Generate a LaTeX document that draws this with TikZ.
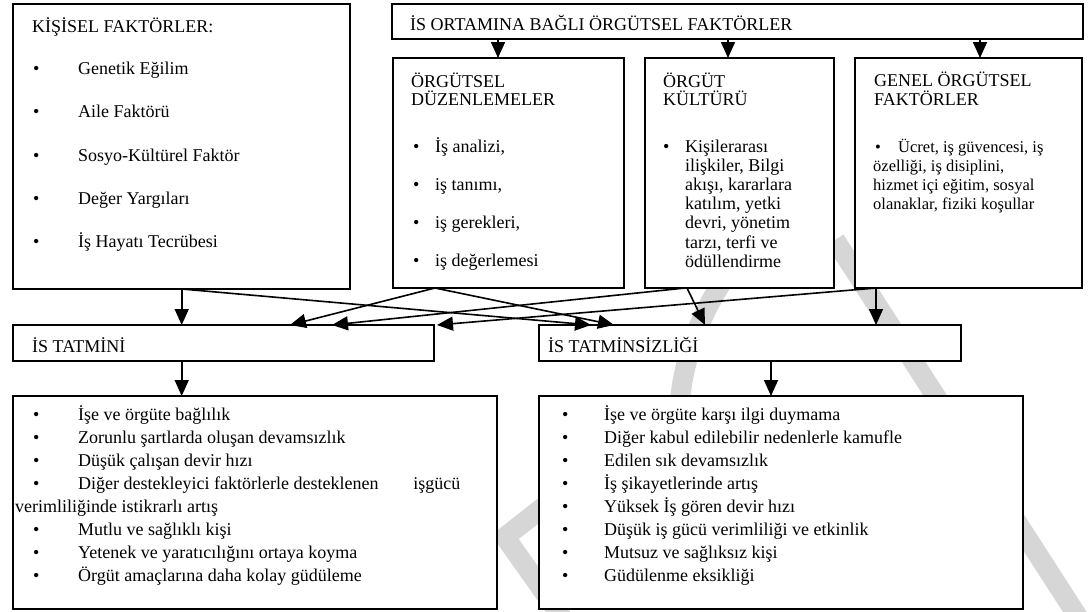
\documentclass[tikz,border=0pt]{standalone}
\usepackage{fontspec}
\setmainfont{Liberation Serif}
\usetikzlibrary{arrows.meta}
\begin{document}
\begin{tikzpicture}[x=1pt,y=-1pt,
  box/.style={draw,fill=white,line width=1.7pt,inner sep=0pt,outer sep=0pt,anchor=north west},
  conn/.style={line width=1.6pt,-{Triangle[length=16pt,width=14pt]}},
  txt/.style={anchor=base west,inner sep=0pt,font=\fontsize{18}{20}\selectfont},
  txtg/.style={txt,font=\fontsize{16.5}{19}\selectfont},
  bul/.style={txt},
  wmark/.style={draw=black!16,line width=20pt,line join=miter},
]
\useasboundingbox (0,0) rectangle (1090,611);
% faint watermark (mostly hidden behind the boxes)
\draw[wmark] (745,250) .. controls (705,300) and (685,350) .. (680,400) -- (505,537) -- (585,650);
\draw[wmark] (835,240) -- (1080,620);

% boxes
\node[box,minimum width=337pt,minimum height=285pt] (K) at (13,4) {};
\node[box,minimum width=691pt,minimum height=35pt] (H) at (392,4) {};
\node[box,minimum width=231pt,minimum height=230pt] (D) at (393,58) {};
\node[box,minimum width=189pt,minimum height=230pt] (C) at (645,58) {};
\node[box,minimum width=227pt,minimum height=230pt] (G) at (855,58) {};
\node[box,minimum width=421pt,minimum height=36pt] (T) at (13,325) {};
\node[box,minimum width=422pt,minimum height=36pt] (U) at (539,325) {};
\node[box,minimum width=484pt,minimum height=213pt] (BL) at (13,396) {};
\node[box,minimum width=484pt,minimum height=213pt] (BR) at (539,396) {};

% texts
\node[txt] (Kt) at (32,32) {KİŞİSEL FAKTÖRLER:};
\foreach \t/\y [count=\i] in {Genetik Eğilim/74, Aile Faktörü/117, Sosyo-Kültürel Faktör/161, Değer Yargıları/204, İş Hayatı Tecrübesi/247}{
  \node[bul] (Kb\i) at (33,\y) {\textbullet};
  \node[txt] (Ki\i) at (78,\y) {\t};
}
\node[txt] (Ht) at (410,30) {İS ORTAMINA BAĞLI ÖRGÜTSEL FAKTÖRLER};

\node[txt] (Dt1) at (411,87) {ÖRGÜTSEL};
\node[txt] (Dt2) at (411,105) {DÜZENLEMELER};
\foreach \t/\y [count=\i] in {{İş analizi,/152}, {iş tanımı,/190}, {iş gerekleri,/228}, {iş değerlemesi/266}}{
  \node[bul] (Db\i) at (413,\y) {\textbullet};
  \node[txt] (Di\i) at (435,\y) {\t};
}

\node[txt] (Ct1) at (663,87) {ÖRGÜT};
\node[txt] (Ct2) at (663,105) {KÜLTÜRÜ};
\node[bul] (Cb) at (663,152) {\textbullet};
\foreach \t/\y [count=\i] in {Kişilerarası/152, {ilişkiler, Bilgi/171.2}, {akışı, kararlara/190.4}, {katılım, yetki/209.6}, {devri, yönetim/228.8}, {tarzı, terfi ve/248}, ödüllendirme/267.2}{
  \node[txt] (Ci\i) at (685,\y) {\t};
}

\node[txt] (Gt1) at (874,86) {GENEL ÖRGÜTSEL};
\node[txt] (Gt2) at (874,105) {FAKTÖRLER};
\node[txtg] (Gb) at (875,152) {\textbullet};
\node[txtg] (Gi1) at (898,152) {Ücret, iş güvencesi, iş};
\foreach \t/\y [count=\i from 2] in {{özelliği, iş disiplini,/171.2}, {hizmet içi eğitim, sosyal/190.4}, {olanaklar, fiziki koşullar/209.6}}{
  \node[txtg] (Gi\i) at (873,\y) {\t};
}

\node[txt] (Tt) at (32,352) {İS TATMİNİ};
\node[txt] (Ut) at (548,352) {İS TATMİNSİZLİĞİ};

% bottom left list
\foreach \y [count=\i] in {420,443,466,489,535,558,581}{
  \node[bul] (Lb\i) at (33,\y) {\textbullet};
}
\foreach \t/\y [count=\i] in {İşe ve örgüte bağlılık/420, Zorunlu şartlarda oluşan devamsızlık/443, Düşük çalışan devir hızı/466, Mutlu ve sağlıklı kişi/535, Yetenek ve yaratıcılığını ortaya koyma/558, Örgüt amaçlarına daha kolay güdüleme/581}{
  \node[txt] (Li\i) at (78,\y) {\t};
}
\node[txt] (Ld) at (78,489) {\hbox to 382pt{Diğer destekleyici faktörlerle desteklenen\hfill işgücü}};
\node[txt] (Lv) at (15,512) {verimliliğinde istikrarlı artış};

% bottom right list
\foreach \t/\y [count=\i] in {İşe ve örgüte karşı ilgi duymama/420, Diğer kabul edilebilir nedenlerle kamufle/443, Edilen sık devamsızlık/466, İş şikayetlerinde artış/489, Yüksek İş gören devir hızı/512, Düşük iş gücü verimliliği ve etkinlik/535, Mutsuz ve sağlıksız kişi/558, Güdülenme eksikliği/581}{
  \node[bul] (Rb\i) at (562,\y) {\textbullet};
  \node[txt] (Ri\i) at (604,\y) {\t};
}

% connectors
\draw[conn] ([xshift=106pt]H.south west) -- ([xshift=105pt]D.north west);
\draw[conn] ([xshift=336pt]H.south west) -- ([xshift=83pt]C.north west);
\draw[conn] ([xshift=588pt]H.south west) -- ([xshift=125pt]G.north west);

\draw[conn] ([xshift=168.7pt]K.south west) -- ([xshift=168.7pt]T.north west);
\draw[conn] ([xshift=168.7pt]K.south west) -- ([xshift=52pt]U.north west);
\draw[conn] ([xshift=42pt]D.south west) -- ([xshift=277pt]T.north west);
\draw[conn] ([xshift=42pt]D.south west) -- ([xshift=75pt]U.north west);
\draw[conn] ([xshift=40pt]C.south west) -- ([xshift=319pt]T.north west);
\draw[conn] ([xshift=42pt]C.south west) -- ([xshift=166pt]U.north west);
\draw[conn] ([xshift=21pt]G.south west) -- ([xshift=424pt]T.north west);
\draw[conn] ([xshift=21pt]G.south west) -- ([xshift=337pt]U.north west);

\draw[conn] ([xshift=168.7pt]T.south west) -- ([xshift=168.7pt]BL.north west);
\draw[conn] ([xshift=232pt]U.south west) -- ([xshift=232pt]BR.north west);
\end{tikzpicture}
\end{document}
